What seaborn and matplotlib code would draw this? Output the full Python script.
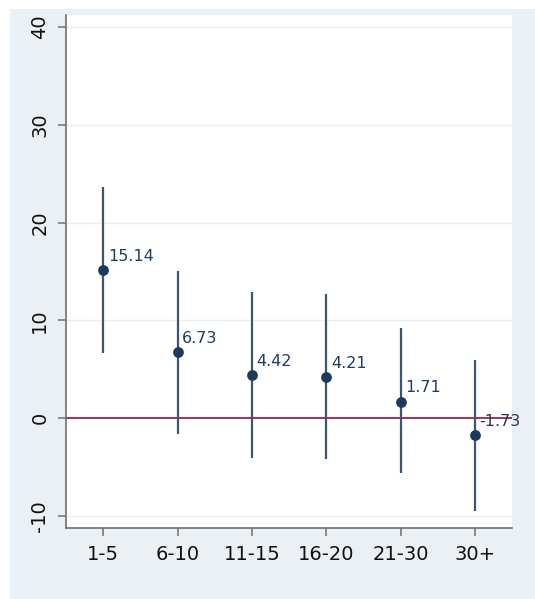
import matplotlib
matplotlib.use("Agg")
import matplotlib.pyplot as plt
import seaborn as sns
import pandas as pd
from matplotlib.patches import Rectangle

categories = ["1-5", "6-10", "11-15", "16-20", "21-30", "30+"]
estimates = [15.14, 6.73, 4.42, 4.21, 1.71, -1.73]
lower = [6.7, -1.6, -4.0, -4.2, -5.6, -9.5]
upper = [23.6, 15.1, 12.9, 12.7, 9.2, 6.0]
labels = ["15.14", "6.73", "4.42", "4.21", "1.71", "-1.73"]
yticks = [-10, 0, 10, 20, 30, 40]

df = pd.DataFrame({"group": categories, "est": estimates, "lo": lower, "hi": upper})

sns.set_theme(style="white")
plt.rcParams["font.family"] = ["DejaVu Sans"]

W, H = 535, 599
fig = plt.figure(figsize=(W / 100, H / 100), dpi=100, facecolor="white")
bg = Rectangle((10 / W, 0), 1 - 10 / W, (H - 9) / H,
               transform=fig.transFigure, facecolor="#eaf0f4",
               edgecolor="none", zorder=-10)
fig.add_artist(bg)

left, top, right, bottom = 66, 15, 512, 528
ax = fig.add_axes([left / W, (H - bottom) / H, (right - left) / W, (bottom - top) / H])
ax.set_zorder(1)
ax.set_facecolor("white")

line_col = "#3d566e"
pt_col = "#1b3a5c"

ax.vlines(df["group"], df["lo"], df["hi"], color=line_col, lw=1.6, zorder=2)
sns.scatterplot(data=df, x="group", y="est", ax=ax, color=pt_col, s=60,
                edgecolor=pt_col, linewidth=0, zorder=3, legend=False)
ax.axhline(0, color="#a3324f", lw=1.4, zorder=1)

for i, (v, t) in enumerate(zip(estimates, labels)):
    ax.annotate(t, (i, v), xytext=(3.5, 4.5), textcoords="offset points",
                ha="left", va="bottom", fontsize=11.5, color="#1f3d5e", zorder=4)

ax.set_xlim(-0.5, 5.5)
ax.set_ylim(-11.2, 41.2)
ax.set_yticks(yticks)
ax.set_yticklabels([str(y) for y in yticks], rotation=90, va="center")
ax.yaxis.grid(True, color="#eaeef1", lw=1.0)
ax.set_axisbelow(True)
ax.set_xlabel("")
ax.set_ylabel("")

for s in ["top", "right"]:
    ax.spines[s].set_visible(False)
for s in ["left", "bottom"]:
    ax.spines[s].set_color("#6f6f6f")
    ax.spines[s].set_linewidth(1.2)

ax.tick_params(axis="both", which="major", length=6, width=1.1, color="#6f6f6f",
               labelsize=14, labelcolor="#111111", bottom=True, left=True, pad=6)

fig.savefig("out.png", dpi=100, facecolor=fig.get_facecolor())
